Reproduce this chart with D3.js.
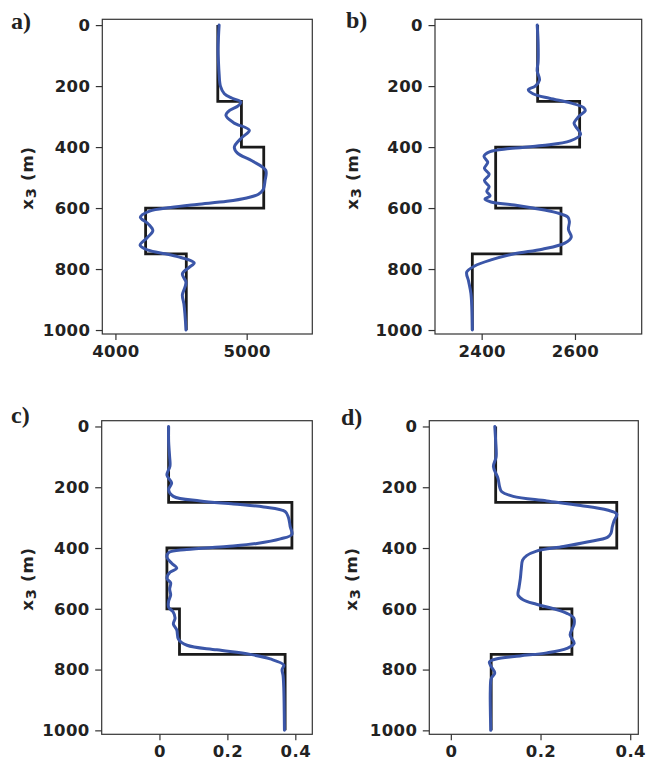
<!DOCTYPE html>
<html>
<head>
<meta charset="utf-8">
<script src="https://cdn.jsdelivr.net/npm/d3@7"></script>
<style>
  body { margin: 0; background: white; }
  .tick text { font-family: "DejaVu Sans", sans-serif; font-weight: bold; font-size: 16.5px; fill: #222; letter-spacing: 0.4px; }
  .tick line { stroke: #333; stroke-width: 1.2; }
</style>
</head>
<body>
<div id="container"></div>
<script>
/* CONSTANTS AND GLOBALS */

const depthTicks = [0, 200, 400, 600, 800, 1000];
const layerDepths = [0, 250, 400, 600, 750, 1000];

// true (step) models
const stepA = [4780, 4960, 5130, 4230, 4540];
const stepB = [2520, 2610, 2430, 2570, 2380];
const stepC = [0.027, 0.39, 0.022, 0.059, 0.37];
const stepD = [0.10, 0.37, 0.20, 0.27, 0.09];

// inverted (smooth) models
const invDepthA = [0,40,80,120,160,200,225,240,252,265,280,296,320,345,370,400,420,445,476,510,540,555,567,578,588,598,610,630,652,674,698,722,738,750,760,770,780,795,816,843,865,885,915,950,1000];
const invA = [4790,4785,4782,4785,4790,4800,4830,4890,4955,4935,4870,4842,4900,5020,4960,4906,4930,5040,5145,5140,5125,5090,5000,4850,4620,4420,4260,4190,4250,4285,4240,4188,4250,4380,4480,4560,4600,4560,4510,4538,4525,4510,4522,4530,4538];

const invDepthB = [0,60,120,150,180,200,212,225,240,255,270,280,300,322,340,358,380,395,405,415,430,450,470,490,510,530,545,560,570,580,590,600,615,630,645,670,695,715,735,750,770,790,810,840,880,930,1000];
const invB = [2519,2521,2521,2519,2524,2515,2500,2510,2545,2590,2618,2622,2608,2598,2605,2612,2590,2530,2460,2418,2405,2413,2406,2416,2406,2416,2411,2418,2407,2420,2470,2510,2560,2585,2588,2586,2592,2578,2530,2470,2420,2385,2368,2372,2377,2379,2380];

const invDepthC = [0,50,100,130,160,186,208,230,245,255,265,280,300,330,355,370,385,395,405,415,430,450,466,480,500,515,535,555,575,595,610,630,650,670,700,720,735,750,765,785,800,820,860,1000];
const invC = [0.027,0.027,0.030,0.031,0.022,0.036,0.027,0.041,0.12,0.218,0.307,0.37,0.38,0.385,0.39,0.356,0.287,0.198,0.08,0.027,0.022,0.036,0.051,0.031,0.022,0.033,0.030,0.033,0.027,0.027,0.040,0.046,0.041,0.051,0.056,0.081,0.169,0.267,0.326,0.366,0.361,0.364,0.366,0.368];

const invDepthD = [0,50,100,132,170,200,214,230,245,260,275,288,310,330,352,365,380,395,410,425,440,470,500,530,555,570,585,600,615,630,650,686,714,730,745,755,765,775,790,811,830,870,920,1000];
const invD = [0.098,0.100,0.101,0.095,0.105,0.109,0.113,0.139,0.214,0.289,0.349,0.370,0.364,0.360,0.357,0.349,0.304,0.251,0.191,0.169,0.160,0.157,0.155,0.152,0.150,0.161,0.191,0.229,0.259,0.274,0.275,0.266,0.275,0.259,0.214,0.154,0.101,0.086,0.090,0.098,0.090,0.088,0.088,0.089];

const xTicksA = [4000, 5000];
const xTicksB = [2400, 2600];
const xTicksC = [0, 0.2, 0.4];
const xTicksD = [0, 0.2, 0.4];

const panels = [
  {label: "a)", step: stepA, depth: invDepthA, inv: invA, ticks: xTicksA, xd: [3900, 5500],
   box: [102.3, 312.3, 19.3, 334], lab: [11, 29], ylab: [32.5, 178]},
  {label: "b)", step: stepB, depth: invDepthB, inv: invB, ticks: xTicksB, xd: [2300, 2743],
   box: [435, 641.7, 19.3, 334], lab: [346, 28], ylab: [357.5, 178]},
  {label: "c)", step: stepC, depth: invDepthC, inv: invC, ticks: xTicksC, xd: [-0.17, 0.45],
   box: [101.7, 312.3, 420.7, 734.3], lab: [11, 423], ylab: [32.5, 579]},
  {label: "d)", step: stepD, depth: invDepthD, inv: invD, ticks: xTicksD, xd: [-0.048, 0.418],
   box: [429.3, 638.3, 420.7, 734.3], lab: [341, 425], ylab: [356.5, 579]}
];

const svg = d3.select("#container")
  .append("svg")
  .attr("width", 647)
  .attr("height", 762)
  .style("background-color", "white");

panels.forEach(p => {
  const [x0, x1, y0, y1] = p.box;

  const xScale = d3.scaleLinear().domain(p.xd).range([x0, x1]);
  const yScale = d3.scaleLinear().domain([-19, 1013]).range([y0, y1]);

  const g = svg.append("g");

  // axes
  g.append("g")
    .attr("transform", `translate(${x0},0)`)
    .call(d3.axisLeft(yScale).tickValues(depthTicks).tickSize(6.5).tickPadding(5.5).tickFormat(d3.format("d")))
    .call(a => a.select(".domain").remove());

  g.append("g")
    .attr("transform", `translate(0,${y1})`)
    .call(d3.axisBottom(xScale).tickValues(p.ticks).tickSize(6).tickPadding(5)
      .tickFormat(d => d === 0 ? "0" : (Math.abs(d) < 1 ? d3.format(".1f")(d) : d3.format("d")(d))))
    .call(a => a.select(".domain").remove());

  // frame
  g.append("rect")
    .attr("x", x0).attr("y", y0)
    .attr("width", x1 - x0).attr("height", y1 - y0)
    .attr("fill", "none")
    .attr("stroke", "#333")
    .attr("stroke-width", 1.2);

  // step model
  const stepPts = [];
  p.step.forEach((v, i) => {
    stepPts.push([v, layerDepths[i]]);
    stepPts.push([v, layerDepths[i + 1]]);
  });
  g.append("path")
    .datum(stepPts)
    .attr("fill", "none")
    .attr("stroke", "#1a1a1a")
    .attr("stroke-width", 2.8)
    .attr("d", d3.line().x(d => xScale(d[0])).y(d => yScale(d[1])));

  // inverted model
  const invPts = p.depth.map((z, i) => [p.inv[i], z]);
  g.append("path")
    .datum(invPts)
    .attr("fill", "none")
    .attr("stroke", "#3b56a8")
    .attr("stroke-width", 3)
    .attr("stroke-linecap", "round")
    .attr("d", d3.line().curve(d3.curveCatmullRom.alpha(0.5)).x(d => xScale(d[0])).y(d => yScale(d[1])));

  // y label
  const yl = g.append("text")
    .attr("transform", `translate(${p.ylab[0]},${p.ylab[1]}) rotate(-90)`)
    .attr("text-anchor", "middle")
    .style("font-family", "DejaVu Sans, sans-serif")
    .style("font-weight", "bold")
    .style("font-size", "16.5px")
    .style("letter-spacing", "0.8px")
    .style("fill", "#222");
  yl.append("tspan").text("x");
  yl.append("tspan").attr("dy", 3).style("font-size", "14.5px").text("3");
  yl.append("tspan").attr("dy", -3).text(" (m)");

  // panel label
  g.append("text")
    .attr("x", p.lab[0]).attr("y", p.lab[1])
    .style("font-family", "Liberation Serif, serif")
    .style("font-weight", "bold")
    .style("font-size", "24px")
    .style("fill", "#222")
    .text(p.label);
});
</script>
</body>
</html>
